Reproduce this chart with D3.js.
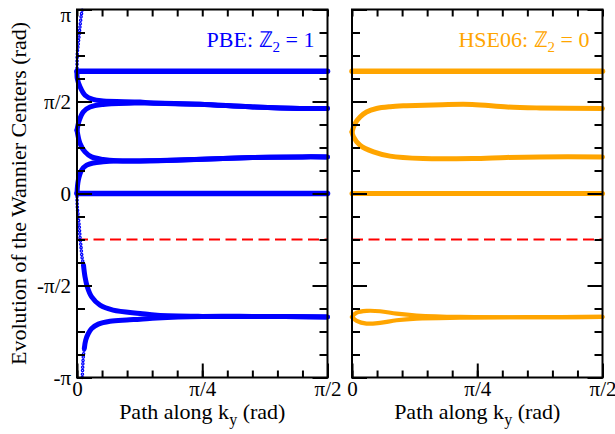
<!DOCTYPE html>
<html>
<head>
<meta charset="utf-8">
<script src="https://cdn.jsdelivr.net/npm/d3@7"></script>
<style>
  body { margin: 0; background: #fff; }
</style>
</head>
<body>
<script>
// ------------  DATA (k along path, Wannier centre)  both in units of pi  ------------
const pbeFlatTop = [[0, 0.665], [0.5, 0.665]];
const pbeFlatZero = [[0, 0], [0.5, 0]];
const pbeUpperDown = [[0, 0.665], [0.0006, 0.625], [0.006, 0.58], [0.016, 0.534], [0.032, 0.511], [0.052, 0.503], [0.126, 0.497], [0.146, 0.492], [0.245, 0.485], [0.345, 0.471], [0.445, 0.462], [0.5, 0.462]];
const pbeMidUp = [[0, 0.344], [0.0046, 0.398], [0.0126, 0.444], [0.026, 0.47], [0.052, 0.484], [0.12, 0.492], [0.146, 0.492], [0.245, 0.485], [0.345, 0.471], [0.445, 0.462], [0.5, 0.462]];
const pbeMidDown = [[0, 0.344], [0.006, 0.272], [0.016, 0.226], [0.029, 0.199], [0.052, 0.185], [0.08, 0.178], [0.15, 0.178], [0.25, 0.186], [0.35, 0.195], [0.45, 0.199], [0.5, 0.199]];
const pbeZeroUp = [[0, 0], [0.0026, 0.072], [0.0093, 0.127], [0.0193, 0.154], [0.0326, 0.166], [0.052, 0.172], [0.08, 0.176], [0.15, 0.178], [0.25, 0.186], [0.35, 0.195], [0.45, 0.199], [0.5, 0.199]];
const pbeWrapTopDots = [[0, 0.665], [0.0006, 0.761], [0.0026, 0.815], [0.0046, 0.87], [0.0066, 0.924], [0.0086, 0.969], [0.0106, 1.0]];
const pbeWrapBottomDots = [[0.0106, -1.0], [0.0114, -0.942], [0.0126, -0.888], [0.0146, -0.842]];
const pbeWrapBottom = [[0.0146, -0.842], [0.0174, -0.797], [0.0226, -0.761], [0.0293, -0.734], [0.0425, -0.71], [0.0659, -0.694], [0.0992, -0.687], [0.126, -0.683], [0.16, -0.676], [0.25, -0.668], [0.35, -0.668], [0.5, -0.671]];
const pbeZeroDownDots = [[0, -0.018], [0.0006, -0.073], [0.0026, -0.127], [0.0046, -0.182], [0.006, -0.236], [0.008, -0.29], [0.01, -0.345], [0.013, -0.39]];
const pbeZeroDown = [[0.013, -0.39], [0.016, -0.453], [0.0206, -0.508], [0.0293, -0.562], [0.046, -0.607], [0.072, -0.634], [0.126, -0.652], [0.16, -0.662], [0.25, -0.668], [0.35, -0.668], [0.5, -0.671]];

const hseFlatTop = [[0, 0.665], [0.5, 0.665]];
const hseFlatZero = [[0, 0], [0.5, 0]];
const hseLoopUp = [[0, 0.335], [0.006, 0.38], [0.016, 0.416], [0.029, 0.443], [0.049, 0.462], [0.076, 0.472], [0.109, 0.477], [0.18, 0.483], [0.24, 0.484], [0.31, 0.47], [0.375, 0.465], [0.5, 0.462]];
const hseLoopDown = [[0, 0.335], [0.003, 0.308], [0.016, 0.262], [0.043, 0.226], [0.076, 0.203], [0.142, 0.19], [0.24, 0.19], [0.309, 0.196], [0.375, 0.199], [0.5, 0.199]];
const hseTailUp = [[0, -0.671], [0.0093, -0.648], [0.029, -0.638], [0.056, -0.64], [0.089, -0.653], [0.129, -0.663], [0.215, -0.671], [0.5, -0.671]];
const hseTailDown = [[0, -0.671], [0.0093, -0.692], [0.029, -0.707], [0.056, -0.703], [0.089, -0.689], [0.129, -0.68], [0.215, -0.675], [0.35, -0.672], [0.5, -0.671]];

const dashLevel = -0.25;

const yMajor = [-1, -0.5, 0, 0.5, 1];
const yTickLabels = ["-π", "-π/2", "0", "π/2", "π"];
const yMinor = d3.range(-1, 1.001, 0.125);
const xMajor = [0, 0.25, 0.5];
const xTickLabels = ["0", "π/4", "π/2"];
const xMinor = d3.range(0, 0.501, 0.05);

// ------------  PARAMETERS  ------------
const svgWidth = 615;
const svgHeight = 434;
const plotTop = 9.5, plotBottom = 377.5;
const serif = "'Liberation Serif', 'Times New Roman', Times, serif";

const svg = d3.select("body").append("svg").attr("width", svgWidth).attr("height", svgHeight);

const y = d3.scaleLinear().domain([-1, 1]).range([plotBottom, plotTop]);
const xPbe = d3.scaleLinear().domain([0, 0.5]).range([77, 327.5]);
const xHse = d3.scaleLinear().domain([0, 0.5]).range([352, 602.5]);

function drawPanel(x, lines, dots, color, label, showYLabels) {
  const g = svg.append("g");
  const line = d3.line().x(d => x(d[0])).y(d => y(d[1])).curve(d3.curveCatmullRom.alpha(0.5));

  // red reference line
  g.append("line")
    .attr("x1", x(0)).attr("x2", x(0.5))
    .attr("y1", y(dashLevel)).attr("y2", y(dashLevel))
    .attr("stroke", "red").attr("stroke-width", 2)
    .attr("stroke-dasharray", "11,5.5");

  // dotted (fast moving) parts: small hollow circles
  dots.forEach(d => {
    g.append("path").attr("d", line(d)).attr("fill", "none")
      .attr("stroke", color).attr("stroke-width", 3.6)
      .attr("stroke-linecap", "round").attr("stroke-dasharray", "0,3.4");
    g.append("path").attr("d", line(d)).attr("fill", "none")
      .attr("stroke", "#fff").attr("stroke-width", 1)
      .attr("stroke-linecap", "round").attr("stroke-dasharray", "0,3.4");
  });

  lines.forEach(s => {
    g.append("path").attr("d", line(s.data)).attr("fill", "none")
      .attr("stroke", color).attr("stroke-width", s.w)
      .attr("stroke-linecap", "round").attr("stroke-linejoin", "round");
  });

  // ------------  AXES  ------------
  const left = x.range()[0], right = x.range()[1];

  const yMin = g.append("g").attr("transform", "translate(" + left + ",0)")
    .call(d3.axisLeft(y).tickValues(yMinor).tickSize(-8).tickFormat(""));
  const yMaj = g.append("g").attr("transform", "translate(" + left + ",0)")
    .call(d3.axisLeft(y).tickValues(yMajor).tickSize(-15).tickPadding(6)
      .tickFormat((d, i) => showYLabels ? yTickLabels[i] : ""));
  const yMinR = g.append("g").attr("transform", "translate(" + right + ",0)")
    .call(d3.axisRight(y).tickValues(yMinor).tickSize(-8).tickFormat(""));
  const yMajR = g.append("g").attr("transform", "translate(" + right + ",0)")
    .call(d3.axisRight(y).tickValues(yMajor).tickSize(-15).tickFormat(""));

  const xMin = g.append("g").attr("transform", "translate(0," + plotBottom + ")")
    .call(d3.axisBottom(x).tickValues(xMinor).tickSize(-7).tickFormat(""));
  const xMaj = g.append("g").attr("transform", "translate(0," + plotBottom + ")")
    .call(d3.axisBottom(x).tickValues(xMajor).tickSize(-14).tickPadding(3)
      .tickFormat((d, i) => xTickLabels[i]));
  const xTop = g.append("g").attr("transform", "translate(0," + plotTop + ")")
    .call(d3.axisTop(x).tickValues(xMinor).tickSize(-7).tickFormat(""));

  [yMin, yMaj, yMinR, yMajR, xMin, xMaj, xTop].forEach(a => {
    a.select(".domain").remove();
    a.selectAll("line").attr("stroke", "#000").attr("stroke-width", 2);
    a.selectAll("text").attr("font-size", 21).attr("fill", "#000");
  });
  xMaj.selectAll("text").attr("dy", "0.72em");
  // keep the top pi label inside the picture
  yMaj.selectAll("text").filter(d => d === 1).attr("dy", "0.55em");

  g.append("rect")
    .attr("x", left).attr("y", plotTop)
    .attr("width", right - left).attr("height", plotBottom - plotTop)
    .attr("fill", "none").attr("stroke", "#000").attr("stroke-width", 2);

  // x title
  const xt = g.append("text")
    .attr("x", (left + right) / 2).attr("y", 419)
    .attr("text-anchor", "middle").attr("font-size", 22);
  xt.append("tspan").text("Path along k");
  xt.append("tspan").text("y").attr("font-size", 16).attr("dy", 6);
  xt.append("tspan").text(" (rad)").attr("dy", -6);

  // legend label
  const lt = g.append("text")
    .attr("x", right - 13).attr("y", 47)
    .attr("text-anchor", "end").attr("font-size", 22).attr("fill", color);
  lt.append("tspan").text(label[0]);
  lt.append("tspan").text("2").attr("font-size", 15).attr("dy", 5);
  lt.append("tspan").text(label[1]).attr("dy", -5);
}

drawPanel(xPbe,
  [
    { data: pbeFlatTop, w: 5.5 }, { data: pbeFlatZero, w: 5.5 },
    { data: pbeUpperDown, w: 5 }, { data: pbeMidUp, w: 5 },
    { data: pbeMidDown, w: 5 }, { data: pbeZeroUp, w: 5 },
    { data: pbeWrapBottom, w: 5 }, { data: pbeZeroDown, w: 5 }
  ],
  [pbeWrapTopDots, pbeWrapBottomDots, pbeZeroDownDots],
  "#0000ff", ["PBE: ℤ", " = 1"], true);

drawPanel(xHse,
  [
    { data: hseFlatTop, w: 5.5 }, { data: hseFlatZero, w: 5 },
    { data: hseLoopUp, w: 5 }, { data: hseLoopDown, w: 5 },
    { data: hseTailUp, w: 4.2 }, { data: hseTailDown, w: 4.2 }
  ],
  [],
  "#ffa500", ["HSE06: ℤ", " = 0"], false);

// y title
svg.append("text")
  .attr("transform", "translate(26," + y(0) + ") rotate(-90)")
  .attr("text-anchor", "middle").attr("font-size", 22)
  .text("Evolution of the Wannier Centers (rad)");

svg.selectAll("text").style("font-family", serif);
</script>
</body>
</html>
